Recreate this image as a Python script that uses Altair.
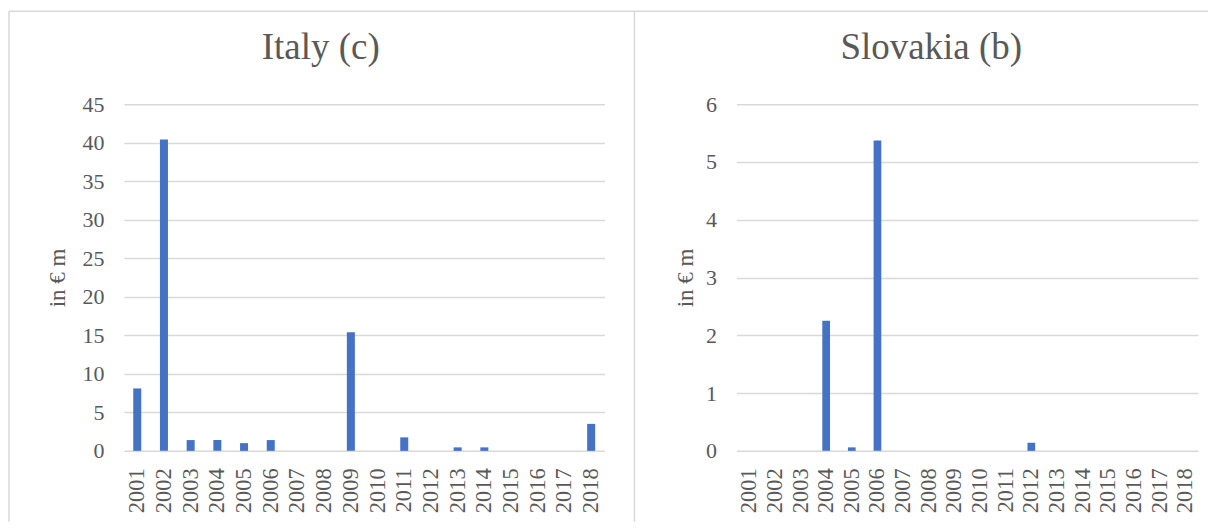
import altair as alt
import pandas as pd

years = ["2001", "2002", "2003", "2004", "2005", "2006", "2007", "2008", "2009",
         "2010", "2011", "2012", "2013", "2014", "2015", "2016", "2017", "2018"]
italy = [8.1, 40.4, 1.4, 1.4, 1.0, 1.4, 0, 0, 15.4, 0, 1.75, 0, 0.45, 0.45, 0, 0, 0, 3.5]
slovakia = [0, 0, 0, 2.25, 0.06, 5.37, 0, 0, 0, 0, 0, 0.14, 0, 0, 0, 0, 0, 0]
italy_ticks = [0, 5, 10, 15, 20, 25, 30, 35, 40, 45]
slovakia_ticks = [0, 1, 2, 3, 4, 5, 6]

FONT = "Liberation Serif"
GREY = "#595959"
GRID = "#d9d9d9"
BLUE = "#4472C4"
H = 347

one = alt.Data(values=[{"k": 1}])


def panel(values, title, title_x, ticks, width, tpad, frames):
    df = pd.DataFrame({"year": years, "value": values})
    bars = alt.Chart(df).mark_bar(color=BLUE).encode(
        x=alt.X("year:N", sort=years, title=None,
                scale=alt.Scale(paddingInner=0.7, paddingOuter=0.35),
                axis=alt.Axis(labelAngle=270, labelFontSize=22.5, labelFont=FONT,
                              labelColor=GREY, labelPadding=17, tickSize=0,
                              domain=False, ticks=False, grid=False)),
        y=alt.Y("value:Q", title="in € m",
                scale=alt.Scale(domain=[ticks[0], ticks[-1]], nice=False),
                axis=alt.Axis(values=ticks, grid=True, gridColor=GRID, gridWidth=1.5,
                              domain=False, ticks=False, labelPadding=20,
                              labelFontSize=22, labelFont=FONT, labelColor=GREY,
                              titleFont=FONT, titleFontSize=23, titleColor=GREY,
                              titleFontWeight="normal", titlePadding=tpad)),
    )
    head = alt.Chart(one).mark_text(
        font=FONT, fontSize=37, color=GREY, align="center", baseline="alphabetic"
    ).encode(x=alt.value(title_x), y=alt.value(-45), text=alt.value(title))
    return alt.layer(*frames, head, bars).properties(width=width, height=H)


def hline(x1, x2, y):
    return alt.Chart(one).mark_rule(stroke=GRID, strokeWidth=1.5).encode(
        x=alt.value(x1), x2=alt.value(x2), y=alt.value(y))


def vline(x, y1, y2):
    return alt.Chart(one).mark_rule(stroke=GRID, strokeWidth=1.5).encode(
        x=alt.value(x), y=alt.value(y1), y2=alt.value(y2))


left_frames = [hline(-115, 511, -93), vline(-115, -93, 418), vline(511, -93, 418)]
right_frames = [hline(-102, 472, -93)]

left = panel(italy, "Italy (c)", 197, italy_ticks, 481, 12, left_frames)
right = panel(slovakia, "Slovakia (b)", 195, slovakia_ticks, 462, 8, right_frames)

chart = alt.hconcat(left, right, spacing=132, bounds="flush").properties(
    padding={"left": 0, "top": 2, "right": 0, "bottom": 0},
    background="white",
).configure_view(strokeWidth=0)

chart.save("out.html", embed_options={"renderer": "svg", "actions": False})
